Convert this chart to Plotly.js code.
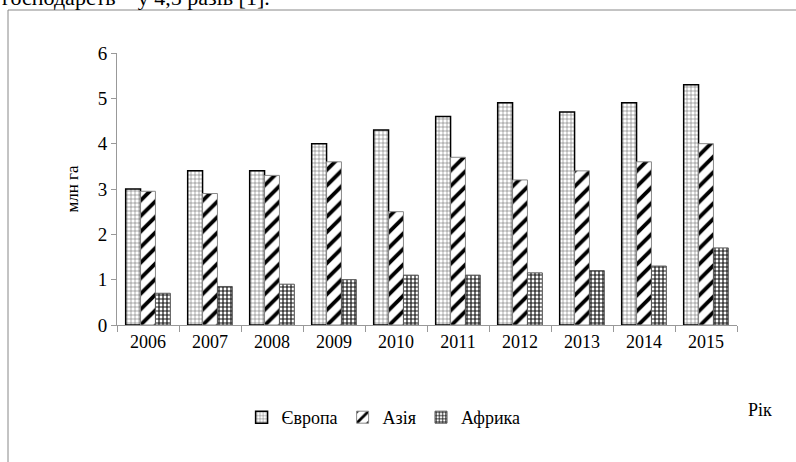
<!DOCTYPE html>
<html><head><meta charset="utf-8">
<script src="https://cdn.plot.ly/plotly-3.0.1.min.js"></script>
<style>body{margin:0;background:#fff}#c{width:796px;height:462px}</style>
</head><body><div id="c"></div>
<script>
const years = ['2006','2007','2008','2009','2010','2011','2012','2013','2014','2015'];
const europe = [3.0, 3.4, 3.4, 4.0, 4.3, 4.6, 4.9, 4.7, 4.9, 5.3];
const asia   = [2.95, 2.9, 3.3, 3.6, 2.5, 3.7, 3.2, 3.4, 3.6, 4.0];
const africa = [0.7, 0.85, 0.9, 1.0, 1.1, 1.1, 1.15, 1.2, 1.3, 1.7];
const names = ['Європа', 'Азія', 'Африка'];
const yTicks = [0,1,2,3,4,5,6];

const font = 'Times New Roman';
const traces = [
  {x: years, y: europe, name: names[0], type: 'bar',
   marker: {color: '#ffffff', line: {color: '#000', width: 1.5},
            pattern: {shape: '+', fgcolor: '#666', bgcolor: '#fff', size: 4, solidity: 0.25}}},
  {x: years, y: asia, name: names[1], type: 'bar',
   marker: {color: '#ffffff', line: {color: '#888', width: 1},
            pattern: {shape: '/', fgcolor: '#000', bgcolor: '#fff', size: 11, solidity: 0.35}}},
  {x: years, y: africa, name: names[2], type: 'bar',
   marker: {color: '#ffffff', line: {color: '#555', width: 1},
            pattern: {shape: '+', fgcolor: '#111', bgcolor: '#fff', size: 4, solidity: 0.5}}}
];
const layout = {
  width: 796, height: 462,
  margin: {l: 117, r: 59, t: 53, b: 137},
  paper_bgcolor: '#fff', plot_bgcolor: '#fff',
  font: {family: font, size: 17, color: '#000'},
  barmode: 'group', bargap: 0.28, bargroupgap: 0,
  showlegend: true,
  legend: {orientation: 'h', x: 0.43, xanchor: 'center', y: -0.34, yanchor: 'middle',
           font: {family: font, size: 18}, itemwidth: 30, tracegroupgap: 0},
  xaxis: {type: 'category', showline: true, linecolor: '#999', ticks: 'outside',
          tickson: 'boundaries', tickcolor: '#999', ticklen: 6, showgrid: false,
          tickfont: {family: font, size: 18}},
  yaxis: {range: [0, 6], tickvals: yTicks, showline: true, linecolor: '#999', ticks: 'outside',
          tickcolor: '#999', ticklen: 5, showgrid: false, zeroline: false,
          tickfont: {family: font, size: 19},
          title: {text: 'млн га', font: {family: font, size: 17}, standoff: 14}},
  annotations: [
    {text: 'Рік', xref: 'paper', yref: 'paper', x: (760-117)/620, y: (325-410)/272,
     showarrow: false, font: {family: font, size: 18}, xanchor: 'center', yanchor: 'middle'},
    {text: 'господарств – у 4,5 разів [1].', xref: 'paper', yref: 'paper',
     x: (0-117)/620, y: (325-12)/272, xanchor: 'left', yanchor: 'bottom',
     showarrow: false, font: {family: font, size: 22}}
  ],
  shapes: [
    {type: 'rect', xref: 'paper', yref: 'paper', x0: (8-117)/620, x1: 2, y0: -2, y1: (325-10)/272,
     line: {color: '#888', width: 1}, fillcolor: 'rgba(0,0,0,0)', layer: 'below'}
  ]
};
Plotly.newPlot('c', traces, layout, {displayModeBar: false, staticPlot: true});
</script></body></html>
